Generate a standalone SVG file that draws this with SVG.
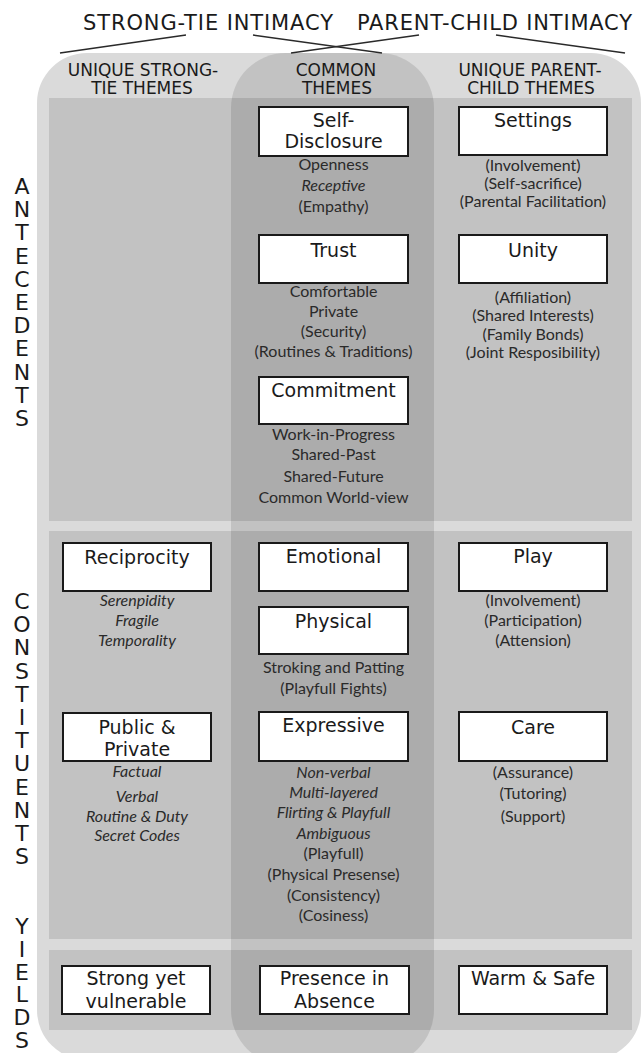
<svg xmlns="http://www.w3.org/2000/svg" width="643" height="1053" viewBox="0 0 643 1053">
<style>
.box{fill:#fff;stroke:#1a1a1a;stroke-width:2}
.t{font-family:"DejaVu Sans",Verdana,sans-serif;font-size:19px;fill:#1a1a1a;text-anchor:middle}
.d{font-family:Lato,"Open Sans",sans-serif;font-size:16px;fill:#2a2a2a;text-anchor:middle}
.i{font-style:italic}
.h{font-family:"DejaVu Sans",Verdana,sans-serif;font-size:17px;fill:#1a1a1a;text-anchor:middle}
.ttl{font-family:"DejaVu Sans",Verdana,sans-serif;font-size:21px;fill:#1a1a1a}
.v{font-family:"DejaVu Sans",Verdana,sans-serif;font-size:22px;fill:#1a1a1a;text-anchor:middle}
.ln{stroke:#2a2a2a;stroke-width:1.5;fill:none}
</style>
<rect width="643" height="1053" fill="#fff"/>
<g id="background">
  <rect x="37" y="53" width="604" height="1007" rx="50" fill="#dadada"/>
  <rect x="49" y="98" width="583" height="423" fill="#c2c2c2"/>
  <rect x="49" y="531" width="583" height="408" fill="#c2c2c2"/>
  <rect x="49" y="950" width="583" height="80" fill="#c2c2c2"/>
  <rect x="231" y="53" width="203" height="1012" rx="55" fill="#000" fill-opacity="0.11"/>
</g>
<g id="titles">
  <text class="ttl" x="83" y="30" textLength="250" lengthAdjust="spacing">STRONG-TIE INTIMACY</text>
  <text class="ttl" x="357" y="30" textLength="275" lengthAdjust="spacing">PARENT-CHILD INTIMACY</text>
</g>
<g id="connectors">
  <line class="ln" x1="60" y1="53" x2="186" y2="35"/>
  <line class="ln" x1="253" y1="35" x2="382" y2="53"/>
  <line class="ln" x1="291" y1="53" x2="419" y2="35"/>
  <line class="ln" x1="496" y1="35" x2="625" y2="53"/>
</g>
<g id="column-headers">
  <text class="h" x="143" y="76">UNIQUE STRONG-</text>
  <text class="h" x="142" y="94">TIE THEMES</text>
  <text class="h" x="336" y="76">COMMON</text>
  <text class="h" x="337" y="94">THEMES</text>
  <text class="h" x="530" y="76">UNIQUE PARENT-</text>
  <text class="h" x="531" y="94">CHILD THEMES</text>
</g>
<g id="row-labels">
  <text class="v"><tspan x="22" y="194">A</tspan><tspan x="22" dy="23.2">N</tspan><tspan x="22" dy="23.2">T</tspan><tspan x="22" dy="23.2">E</tspan><tspan x="22" dy="23.2">C</tspan><tspan x="22" dy="23.2">E</tspan><tspan x="22" dy="23.2">D</tspan><tspan x="22" dy="23.2">E</tspan><tspan x="22" dy="23.2">N</tspan><tspan x="22" dy="23.2">T</tspan><tspan x="22" dy="23.2">S</tspan></text>
  <text class="v"><tspan x="22" y="609">C</tspan><tspan x="22" dy="23.2">O</tspan><tspan x="22" dy="23.2">N</tspan><tspan x="22" dy="23.2">S</tspan><tspan x="22" dy="23.2">T</tspan><tspan x="22" dy="23.2">I</tspan><tspan x="22" dy="23.2">T</tspan><tspan x="22" dy="23.2">U</tspan><tspan x="22" dy="23.2">E</tspan><tspan x="22" dy="23.2">N</tspan><tspan x="22" dy="23.2">T</tspan><tspan x="22" dy="23.2">S</tspan></text>
  <text class="v"><tspan x="22" y="934">Y</tspan><tspan x="22" dy="22.8">I</tspan><tspan x="22" dy="22.8">E</tspan><tspan x="22" dy="22.8">L</tspan><tspan x="22" dy="22.8">D</tspan><tspan x="22" dy="22.8">S</tspan></text>
</g>
<g id="n-self-disclosure">
  <rect class="box" x="259" y="107" width="149" height="49"/>
  <text class="t" x="333.5" y="127">Self-</text>
  <text class="t" x="333.5" y="148">Disclosure</text>
  <text class="d" x="333.5" y="170">Openness</text>
  <text class="d i" x="333.5" y="191">Receptive</text>
  <text class="d" x="333.5" y="212">(Empathy)</text>
</g>
<g id="n-trust">
  <rect class="box" x="259" y="235" width="149" height="48"/>
  <text class="t" x="333.5" y="257">Trust</text>
  <text class="d" x="333.5" y="297">Comfortable</text>
  <text class="d" x="333.5" y="317">Private</text>
  <text class="d" x="333.5" y="337">(Security)</text>
  <text class="d" x="333.5" y="357">(Routines &amp; Traditions)</text>
</g>
<g id="n-commitment">
  <rect class="box" x="259" y="377" width="149" height="47"/>
  <text class="t" x="333.5" y="397">Commitment</text>
  <text class="d" x="333.5" y="440">Work-in-Progress</text>
  <text class="d" x="333.5" y="460">Shared-Past</text>
  <text class="d" x="333.5" y="482">Shared-Future</text>
  <text class="d" x="333.5" y="503">Common World-view</text>
</g>
<g id="n-settings">
  <rect class="box" x="459" y="107" width="148" height="48"/>
  <text class="t" x="533" y="127">Settings</text>
  <text class="d" x="533" y="171">(Involvement)</text>
  <text class="d" x="533" y="189">(Self-sacrifice)</text>
  <text class="d" x="533" y="207">(Parental Facilitation)</text>
</g>
<g id="n-unity">
  <rect class="box" x="459" y="235" width="148" height="48"/>
  <text class="t" x="533" y="257">Unity</text>
  <text class="d" x="533" y="303">(Affiliation)</text>
  <text class="d" x="533" y="321">(Shared Interests)</text>
  <text class="d" x="533" y="340">(Family Bonds)</text>
  <text class="d" x="533" y="358">(Joint Resposibility)</text>
</g>
<g id="n-reciprocity">
  <rect class="box" x="63" y="543" width="148" height="48"/>
  <text class="t" x="137" y="564">Reciprocity</text>
  <text class="d i" x="137" y="606">Serenpidity</text>
  <text class="d i" x="137" y="626">Fragile</text>
  <text class="d i" x="137" y="646">Temporality</text>
</g>
<g id="n-emotional">
  <rect class="box" x="259" y="543" width="149" height="48"/>
  <text class="t" x="333.5" y="563">Emotional</text>
</g>
<g id="n-play">
  <rect class="box" x="459" y="543" width="148" height="48"/>
  <text class="t" x="533" y="563">Play</text>
  <text class="d" x="533" y="606">(Involvement)</text>
  <text class="d" x="533" y="626">(Participation)</text>
  <text class="d" x="533" y="646">(Attension)</text>
</g>
<g id="n-physical">
  <rect class="box" x="259" y="607" width="149" height="47"/>
  <text class="t" x="333.5" y="628">Physical</text>
  <text class="d" x="333.5" y="673">Stroking and Patting</text>
  <text class="d" x="333.5" y="694">(Playfull Fights)</text>
</g>
<g id="n-public-private">
  <rect class="box" x="63" y="713" width="148" height="48"/>
  <text class="t" x="137" y="734">Public &amp;</text>
  <text class="t" x="137" y="756">Private</text>
  <text class="d i" x="137" y="777">Factual</text>
  <text class="d i" x="137" y="802">Verbal</text>
  <text class="d i" x="137" y="822">Routine &amp; Duty</text>
  <text class="d i" x="137" y="841">Secret Codes</text>
</g>
<g id="n-expressive">
  <rect class="box" x="259" y="712" width="149" height="49"/>
  <text class="t" x="333.5" y="732">Expressive</text>
  <text class="d i" x="333.5" y="778">Non-verbal</text>
  <text class="d i" x="333.5" y="798">Multi-layered</text>
  <text class="d i" x="333.5" y="818">Flirting &amp; Playfull</text>
  <text class="d i" x="333.5" y="839">Ambiguous</text>
  <text class="d" x="333.5" y="859">(Playfull)</text>
  <text class="d" x="333.5" y="880">(Physical Presense)</text>
  <text class="d" x="333.5" y="901">(Consistency)</text>
  <text class="d" x="333.5" y="921">(Cosiness)</text>
</g>
<g id="n-care">
  <rect class="box" x="459" y="712" width="148" height="49"/>
  <text class="t" x="533" y="734">Care</text>
  <text class="d" x="533" y="778">(Assurance)</text>
  <text class="d" x="533" y="799">(Tutoring)</text>
  <text class="d" x="533" y="822">(Support)</text>
</g>
<g id="n-strong-yet-vulnerable">
  <rect class="box" x="62" y="966" width="148" height="48"/>
  <text class="t" x="136" y="985">Strong yet</text>
  <text class="t" x="136" y="1008">vulnerable</text>
</g>
<g id="n-presence-in-absence">
  <rect class="box" x="260" y="966" width="149" height="48"/>
  <text class="t" x="334.5" y="985">Presence in</text>
  <text class="t" x="334.5" y="1008">Absence</text>
</g>
<g id="n-warm-safe">
  <rect class="box" x="459" y="966" width="148" height="48"/>
  <text class="t" x="533" y="985">Warm &amp; Safe</text>
</g>
</svg>
